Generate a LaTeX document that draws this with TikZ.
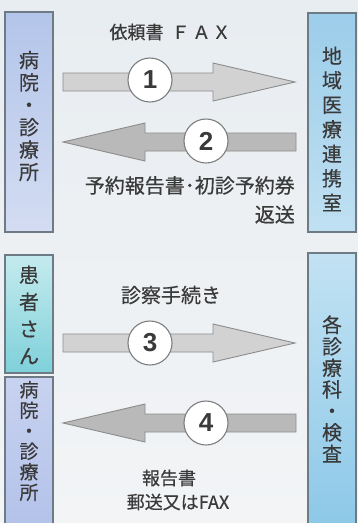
\documentclass[tikz,border=0pt]{standalone}
\usepackage{fontspec}
\newfontfamily\jp[BoldFont={Noto Sans CJK JP}, BoldFeatures={FakeBold=0.45}]{Noto Sans CJK JP}
\newfontfamily\numfont{Liberation Sans}
\usetikzlibrary{calc}
\definecolor{bgtop}{HTML}{E8EDF1}
\definecolor{bgbot}{HTML}{F2F4F6}
\definecolor{boxline}{HTML}{6F7B84}
\definecolor{txt}{HTML}{3A3A3A}
\definecolor{arrline}{HTML}{8C8C8C}
\definecolor{arrlight}{HTML}{D2D2D2}
\definecolor{arrdark}{HTML}{B9B9B9}
\definecolor{lavtop}{HTML}{B3C5EA}
\definecolor{lavbot}{HTML}{D3DCF2}
\definecolor{lav2top}{HTML}{C8D2F0}
\definecolor{lav2bot}{HTML}{B3C2EA}
\definecolor{bluetop}{HTML}{9CCDEA}
\definecolor{bluebot}{HTML}{C0E0F2}
\definecolor{blue2top}{HTML}{C2E2F3}
\definecolor{blue2bot}{HTML}{8CC8E8}
\definecolor{tealtop}{HTML}{C4EBEE}
\definecolor{tealbot}{HTML}{7FD0DA}
\tikzset{
  sidebox/.style={draw=boxline, line width=1.2pt},
  boxtext/.style={text=txt, align=center, inner sep=0pt},
  lbl/.style={text=txt, inner sep=0pt},
  numcircle/.style={circle, draw=arrline!90!black, line width=1.1pt, fill=white,
    minimum size=44pt, inner sep=0pt, text=txt,
    font=\numfont\bfseries\fontsize{26}{26}\selectfont},
  blockarrow/.style={draw=arrline, line width=0.9pt, line join=miter,
    to path={let \p1=(\tikztostart), \p2=(\tikztotarget),
      \n1={sign(\x2-\x1)} in
      (\x1,\y1+9pt) -- (\x2-\n1*82pt,\y1+9pt) -- (\x2-\n1*82pt,\y1+19pt)
      -- (\x2,\y1) -- (\x2-\n1*82pt,\y1-19pt) -- (\x2-\n1*82pt,\y1-9pt)
      -- (\x1,\y1-9pt) -- cycle}},
  arrowR/.style={blockarrow, fill=arrlight},
  arrowL/.style={blockarrow, fill=arrdark}
}
\begin{document}
\begin{tikzpicture}[x=1pt,y=-1pt]
\useasboundingbox (0,0) rectangle (358,523);
\shade[top color=bgtop, bottom color=bgbot] (0,0) rectangle (358,523);

% side boxes
\shade[top color=lavtop, bottom color=lavbot] (5,12) rectangle (53,232);
\draw[sidebox] (5,12) rectangle (53,232);
\node[boxtext, font=\jp\bfseries\fontsize{20}{22.4}\selectfont] (L1) at (29,116) {病\\院\\・\\診\\療\\所};

\shade[top color=bluetop, bottom color=bluebot] (308,13) rectangle (356,232);
\draw[sidebox] (308,13) rectangle (356,232);
\node[boxtext, font=\jp\bfseries\fontsize{20}{24.5}\selectfont] (R1) at (332,129) {地\\域\\医\\療\\連\\携\\室};

\shade[top color=tealtop, bottom color=tealbot] (5,255) rectangle (53,373);
\draw[sidebox] (5,255) rectangle (53,373);
\node[boxtext, font=\jp\bfseries\fontsize{20}{27}\selectfont] (L2) at (29,315) {患\\者\\さ\\ん};

\shade[top color=lav2top, bottom color=lav2bot] (5,377) rectangle (53,530);
\draw[sidebox] (5,377) rectangle (53,530);
\node[boxtext, font=\jp\bfseries\fontsize{19}{20.5}\selectfont] (L3) at (29,441) {病\\院\\・\\診\\療\\所};

\shade[top color=blue2top, bottom color=blue2bot] (308,253) rectangle (356,530);
\draw[sidebox] (308,253) rectangle (356,530);
\node[boxtext, font=\jp\bfseries\fontsize{20}{21.5}\selectfont] (R2) at (332,389) {各\\診\\療\\科\\・\\検\\査};

% arrow end points
\coordinate (a1s) at (63,82);  \coordinate (a1e) at (295,82);
\coordinate (a2s) at (296,142); \coordinate (a2e) at (63,142);
\coordinate (a3s) at (63,343); \coordinate (a3e) at (295,343);
\coordinate (a4s) at (296,423); \coordinate (a4e) at (63,423);

\draw[arrowR] (a1s) to (a1e);
\draw[arrowL] (a2s) to (a2e);
\draw[arrowR] (a3s) to (a3e);
\draw[arrowL] (a4s) to (a4e);

\node[numcircle] (n1) at (150,80) {1};
\node[numcircle] (n2) at (206,141) {2};
\node[numcircle] (n3) at (150,343) {3};
\node[numcircle] (n4) at (206,423) {4};

% labels
\node[lbl, font=\jp\bfseries\fontsize{18}{18}\selectfont] (t1) at (170,32) {依頼書\kern8ptＦ\kern3ptＡ\kern2ptＸ};
\node[lbl, font=\jp\bfseries\fontsize{20}{29}\selectfont, align=right, anchor=north east] (t2) at (295,176) {予約報告書･初診予約券\\返送};
\node[lbl, font=\jp\bfseries\fontsize{20}{20}\selectfont] (t3) at (171,295) {診察手続き};
\node[lbl, font=\jp\bfseries\fontsize{18}{18}\selectfont] (t4a) at (169,478) {報告書};
\node[lbl, font=\jp\bfseries\fontsize{18}{18}\selectfont] (t4b) at (178,502) {郵送又はFAX};
\end{tikzpicture}
\end{document}
